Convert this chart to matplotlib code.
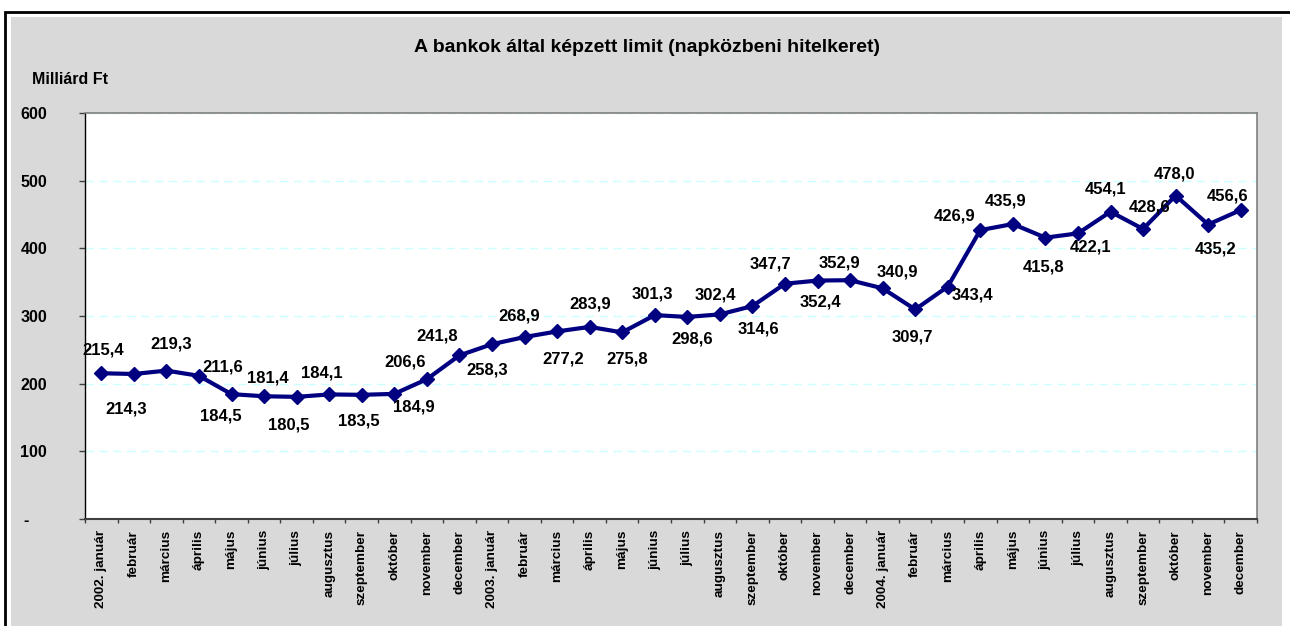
import numpy as np
import matplotlib
matplotlib.use("Agg")
import matplotlib.pyplot as plt
from matplotlib.patches import Rectangle

plt.rcParams['font.family'] = ['Liberation Sans', 'DejaVu Sans']
plt.rcParams['font.weight'] = 'bold'

## Data
years = ["2002", "2003", "2004"]
months = ["január", "február", "március", "április", "május", "június",
          "július", "augusztus", "szeptember", "október", "november", "december"]
values = [215.4, 214.3, 219.3, 211.6, 184.5, 181.4, 180.5, 184.1, 183.5, 184.9, 206.6, 241.8,
          258.3, 268.9, 277.2, 283.9, 275.8, 301.3, 298.6, 302.4, 314.6, 347.7, 352.4, 352.9,
          340.9, 309.7, 343.4, 426.9, 435.9, 415.8, 422.1, 454.1, 428.6, 478.0, 435.2, 456.6]
yticks = [0, 100, 200, 300, 400, 500, 600]
ytick_labels = ["-    ", "100", "200", "300", "400", "500", "600"]

# label placement (screen pixels, dy down) as in the original chart
label_offsets = [(2, -25), (-8, 34), (5, -28), (24, -10), (-11, 20), (4, -20),
                 (-8, 27), (-7, -23), (-3, 25), (20, 12), (-22, -19), (-22, -21),
                 (-5, 24), (-5, -23), (6, 26), (1, -24), (5, 25), (-2, -23),
                 (5, 21), (-4, -21), (6, 21), (-15, -21), (3, 20), (-11, -19),
                 (15, -18), (-3, 26), (25, 7), (-26, -16), (-7, -25), (-2, 28),
                 (13, 12), (-5, -24), (7, -23), (-1, -23), (7, 23), (-13, -16)]

labels = []
for y in years:
    for i, m in enumerate(months):
        labels.append(y + ". " + m if i == 0 else m)

W, H = 1290, 626
fig = plt.figure(figsize=(W / 100, H / 100), dpi=100)
fig.patch.set_facecolor("white")

# chart background and frame
fig.patches.append(Rectangle((11 / W, -0.1), (1282 - 11) / W, 1.1 - 17 / H,
                             transform=fig.transFigure, facecolor="#d9d9d9",
                             edgecolor="none", zorder=-2))
fig.patches.append(Rectangle((5 / W, -0.5), 2, 1.5 - 12 / H,
                             transform=fig.transFigure, facecolor="none",
                             edgecolor="black", lw=2, zorder=-1))

ax = fig.add_axes([85 / W, 1 - 519 / H, (1257 - 85) / W, (519 - 113) / H])
ax.set_facecolor("white")

x = np.arange(len(values))
ax.plot(x, values, color="#000080", lw=3, marker="D", ms=7, zorder=3)

for xi, v, (dx, dy) in zip(x, values, label_offsets):
    ax.annotate(("%.1f" % v).replace(".", ","), (xi, v), xytext=(dx, -(dy + 6)),
                textcoords="offset pixels", ha="center", va="baseline",
                fontsize=12, fontweight="bold", color="black", zorder=4)

ax.set_xlim(-0.5, len(values) - 0.5)
ax.set_ylim(0, 600)
ax.set_yticks(yticks)
ax.set_yticklabels(ytick_labels, fontsize=11.5, fontweight="bold")
ax.tick_params(axis="y", direction="out", length=4.3, width=1, color="#404040", pad=23)

ax.set_xticks(x)
ax.set_xticklabels(labels, rotation=90, fontsize=9.7, fontweight="bold", va="top", ha="center")
ax.set_xticks(np.arange(-0.5, len(values)), minor=True)
ax.tick_params(axis="x", which="major", length=0, pad=8)
ax.tick_params(axis="x", which="minor", length=3, width=1, color="#404040")

ax.grid(axis="y", color="#ccffff", linestyle=(0, (6, 4)), lw=1)
ax.set_axisbelow(True)

ax.spines["left"].set_color("black")
ax.spines["left"].set_linewidth(1)
ax.spines["bottom"].set_color("#404040")
ax.spines["bottom"].set_linewidth(1.5)
for s in ["top", "right"]:
    ax.spines[s].set_color("#808080")
    ax.spines[s].set_linewidth(1.2)

fig.text(647 / W, 1 - 47 / H, "A bankok által képzett limit (napközbeni hitelkeret)",
         ha="center", va="center", fontsize=14, fontweight="bold")
fig.text(32 / W, 1 - 80 / H, "Milliárd Ft", ha="left", va="center",
         fontsize=11.5, fontweight="bold")

fig.savefig("out.png", dpi=100)
